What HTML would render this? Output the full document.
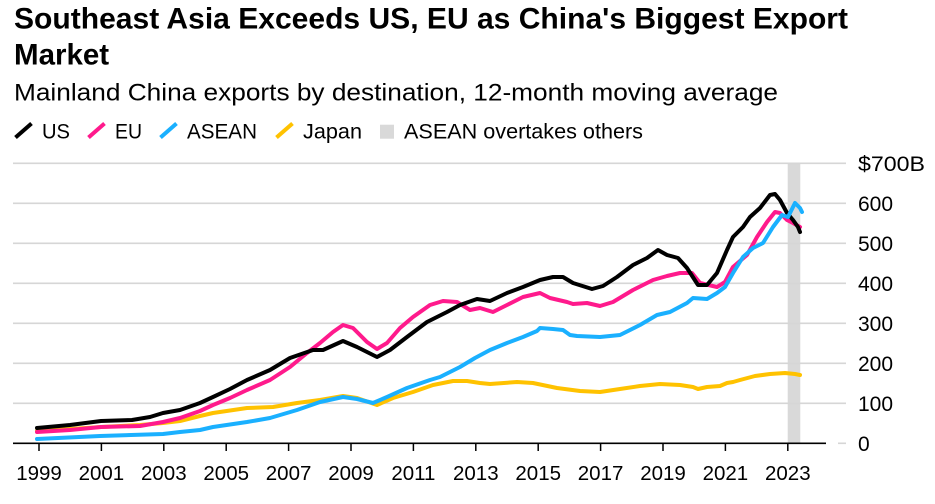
<!DOCTYPE html>
<html><head><meta charset="utf-8"><style>
html,body{margin:0;padding:0;background:#fff;}
svg{display:block;font-family:"Liberation Sans",Arial,sans-serif;}
</style></head><body>
<svg width="935" height="504" viewBox="0 0 935 504" xmlns="http://www.w3.org/2000/svg">
<rect width="935" height="504" fill="#fff"/>
<text x="14" y="28.5" font-size="29.5" font-weight="bold" fill="#000" textLength="834" lengthAdjust="spacingAndGlyphs">Southeast Asia Exceeds US, EU as China's Biggest Export</text>
<text x="14" y="64.5" font-size="29.5" font-weight="bold" fill="#000">Market</text>
<text x="14" y="100.5" font-size="24" fill="#000" textLength="764" lengthAdjust="spacingAndGlyphs">Mainland China exports by destination, 12-month moving average</text>

<g stroke-width="4" stroke-linecap="butt">
<line x1="15.5" y1="137.5" x2="31.5" y2="123.5" stroke="#000"/>
<line x1="88.5" y1="137.5" x2="104.5" y2="123.5" stroke="#ff1a8c"/>
<line x1="160.5" y1="137.5" x2="176.5" y2="123.5" stroke="#1ab0ff"/>
<line x1="276.5" y1="137.5" x2="292.5" y2="123.5" stroke="#ffc200"/>
</g>
<rect x="380" y="124.7" width="14" height="14" fill="#d9d9d9"/>
<g font-size="21" fill="#000">
<text x="42" y="138.7" textLength="28" lengthAdjust="spacingAndGlyphs">US</text>
<text x="115" y="138.7" textLength="27" lengthAdjust="spacingAndGlyphs">EU</text>
<text x="187" y="138.7" textLength="70" lengthAdjust="spacingAndGlyphs">ASEAN</text>
<text x="303" y="138.7" textLength="59" lengthAdjust="spacingAndGlyphs">Japan</text>
<text x="404" y="138.7" textLength="239" lengthAdjust="spacingAndGlyphs">ASEAN overtakes others</text>
</g>

<rect x="787.7" y="163" width="12.6" height="280" fill="#d9d9d9"/>
<g stroke="#d6d6d6" stroke-width="1.6">
<line x1="13" y1="163.3" x2="846" y2="163.3"/>
<line x1="13" y1="203.3" x2="846" y2="203.3"/>
<line x1="13" y1="243.3" x2="846" y2="243.3"/>
<line x1="13" y1="283.3" x2="846" y2="283.3"/>
<line x1="13" y1="323.3" x2="846" y2="323.3"/>
<line x1="13" y1="363.3" x2="846" y2="363.3"/>
<line x1="13" y1="403.3" x2="846" y2="403.3"/>
<line x1="838" y1="443.3" x2="846" y2="443.3"/>
</g>

<g font-size="21" fill="#000">
<text x="858" y="170.8" textLength="67" lengthAdjust="spacingAndGlyphs">$700B</text>
<text x="858" y="210.8">600</text>
<text x="858" y="250.8">500</text>
<text x="858" y="290.8">400</text>
<text x="858" y="330.8">300</text>
<text x="858" y="370.8">200</text>
<text x="858" y="410.8">100</text>
<text x="858" y="450.8">0</text>
</g>

<g fill="none" stroke-width="4" stroke-linejoin="round" stroke-linecap="round">
<polyline stroke="#ffc200" points="37,431 70,429 101,427 140,425 163,423 180,421 200,416 213,413 247,408 273,407 297,403 320,400 343,396 357,398 377,405 393,398 413,392 433,385 453,381 467,381 480,383 490,384 517,382 533,383 557,388 580,391 600,392 620,389 640,386 660,384 680,385 693,387 698,389 707,387 720,386 727,383 733,382 740,380 755,376 770,374 785,373 795,374 800,375"/>
<polyline stroke="#ff1a8c" points="37,432 70,430 101,427 140,426 163,422 180,418 200,411 213,405 230,398 247,390 270,380 290,367 307,353 320,343 333,332 343,325 353,328 367,342 377,349 387,343 400,328 413,317 430,305 443,301 457,302 470,310 480,308 493,312 507,305 523,297 540,293 550,298 567,302 573,304 587,303 600,306 613,302 633,290 653,280 667,276 680,273 692,273 700,283 717,287 725,282 733,267 747,255 757,237 767,222 775,212 780,213 787,220 793,223 800,227"/>
<polyline stroke="#000" points="37,428 70,425 101,421 132,420 150,417 163,413 180,410 200,403 213,397 230,389 247,380 270,370 290,358 313,350 323,350 343,341 357,347 377,357 390,350 407,337 427,322 447,312 460,305 477,299 490,301 507,293 523,287 540,280 553,277 563,277 573,283 592,289 603,286 617,277 633,265 647,258 658,250 667,255 678,258 687,268 698,285 707,285 717,273 727,250 733,237 743,227 750,217 760,208 770,195 775,194 780,200 787,213 793,220 798,227 800,232"/>
<polyline stroke="#1ab0ff" points="37,439 100,436 163,434 180,432 200,430 213,427 247,422 270,418 297,410 320,402 343,397 357,399 373,403 387,397 407,388 430,380 440,377 460,367 475,358 490,350 507,343 523,337 537,331 540,328 553,329 563,330 570,335 577,336 600,337 620,335 640,325 657,315 670,312 687,303 693,298 707,299 717,293 725,287 733,273 743,257 753,248 763,243 773,227 782,215 788,217 795,203 800,208 802,212"/>
</g>

<line x1="13" y1="443.3" x2="826" y2="443.3" stroke="#000" stroke-width="1.6"/>
<g stroke="#000" stroke-width="1.5">
<line x1="39" y1="443" x2="39" y2="451"/>
<line x1="101.4" y1="443" x2="101.4" y2="451"/>
<line x1="163.8" y1="443" x2="163.8" y2="451"/>
<line x1="226.2" y1="443" x2="226.2" y2="451"/>
<line x1="288.6" y1="443" x2="288.6" y2="451"/>
<line x1="351" y1="443" x2="351" y2="451"/>
<line x1="413.4" y1="443" x2="413.4" y2="451"/>
<line x1="475.8" y1="443" x2="475.8" y2="451"/>
<line x1="538.2" y1="443" x2="538.2" y2="451"/>
<line x1="600.6" y1="443" x2="600.6" y2="451"/>
<line x1="663" y1="443" x2="663" y2="451"/>
<line x1="725.4" y1="443" x2="725.4" y2="451"/>
<line x1="787.8" y1="443" x2="787.8" y2="451"/>
</g>
<g font-size="20.5" fill="#000" text-anchor="middle">
<text x="39" y="480">1999</text>
<text x="101.4" y="480">2001</text>
<text x="163.8" y="480">2003</text>
<text x="226.2" y="480">2005</text>
<text x="288.6" y="480">2007</text>
<text x="351" y="480">2009</text>
<text x="413.4" y="480">2011</text>
<text x="475.8" y="480">2013</text>
<text x="538.2" y="480">2015</text>
<text x="600.6" y="480">2017</text>
<text x="663" y="480">2019</text>
<text x="725.4" y="480">2021</text>
<text x="787.8" y="480">2023</text>
</g>
</svg>
</body></html>
